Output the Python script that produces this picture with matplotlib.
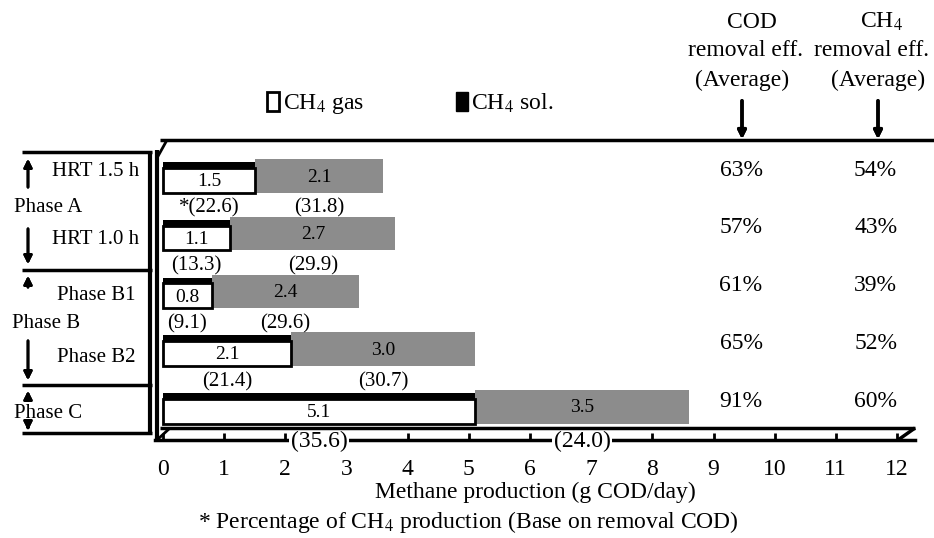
import matplotlib.pyplot as plt
from matplotlib.lines import Line2D
from matplotlib.patches import Patch

plt.rcParams['font.family'] = ['Liberation Serif', 'DejaVu Serif']
plt.rcParams['mathtext.fontset'] = 'stix'

# data
rows = ['HRT 1.5 h', 'HRT 1.0 h', 'Phase B1', 'Phase B2', 'Phase C']
ch4_gas = [1.5, 1.1, 0.8, 2.1, 5.1]
ch4_sol = [2.1, 2.7, 2.4, 3.0, 3.5]
gas_pct = ['*(22.6)', '(13.3)', '(9.1)', '(21.4)', '(35.6)']
sol_pct = ['(31.8)', '(29.9)', '(29.6)', '(30.7)', '(24.0)']
cod_eff = ['63%', '57%', '61%', '65%', '91%']
ch4_eff = ['54%', '43%', '39%', '52%', '60%']
xticks = list(range(0, 13))

W, H = 934, 538
fig = plt.figure(figsize=(W / 100, H / 100), dpi=100)


def fx(px):
    return px / W


def fy(py):
    return 1 - py / H


def fline(xs, ys, lw=2.5, color='black'):
    fig.add_artist(Line2D([fx(x) for x in xs], [fy(y) for y in ys],
                          color=color, lw=lw, solid_capstyle='butt'))


def farrow(x, y0, y1, lw=2):
    fig.add_artist(plt.annotate('', xy=(fx(x), fy(y1)), xytext=(fx(x), fy(y0)),
                                xycoords='figure fraction',
                                arrowprops=dict(arrowstyle='-|>', color='black',
                                                lw=lw, mutation_scale=12)))


# bar axes: 0 at x=163px, 12 at x=897px
ax = fig.add_axes([fx(155), fy(440), (915 - 155) / W, 300 / H])
scale = (897 - 163) / 12
xmin = -(163 - 155) / scale
ax.set_xlim(xmin, xmin + 760 / scale)
step = 57.7
ax.set_ylim((440 - 176) / step, (140 - 176) / step)

ypos = list(range(len(rows)))
# grey CH4 sol. segment
ax.barh(ypos, ch4_sol, left=ch4_gas, height=0.58,
        color='#8c8c8c', edgecolor='none', zorder=2)
# white CH4 gas segment with dark top face
ax.barh([y + 0.075 for y in ypos], ch4_gas, height=0.43, color='white',
        edgecolor='black', linewidth=2, zorder=3)
ax.barh([y - 0.19 for y in ypos], ch4_gas, height=0.1, color='black',
        edgecolor='none', zorder=4)

for i in ypos:
    g, s = ch4_gas[i], ch4_sol[i]
    ax.text(g / 2, i + 0.1, f'{g:.1f}', ha='center', va='center', fontsize=14, zorder=5)
    ax.text(g + s / 2, i + 0.02, f'{s:.1f}', ha='center', va='center', fontsize=14, zorder=5)
    if i < 4:
        ax.text(g / 2, i + 0.56, gas_pct[i], ha='center', va='center', fontsize=15)
        ax.text(g + s / 2, i + 0.56, sol_pct[i], ha='center', va='center', fontsize=15)
    else:
        for xv, t in [(g / 2, gas_pct[i]), (g + s / 2, sol_pct[i])]:
            ax.text(xv, 4.6, t, ha='center', va='center', fontsize=17, zorder=6,
                    bbox=dict(facecolor='white', edgecolor='none', pad=1))
    ax.text(9.45, i - 0.1, cod_eff[i], ha='center', va='center', fontsize=17)
    ax.text(11.65, i - 0.1, ch4_eff[i], ha='center', va='center', fontsize=17)

for sp in ['top', 'right', 'left']:
    ax.spines[sp].set_visible(False)
ax.spines['bottom'].set_linewidth(2.5)
ax.set_yticks([])
ax.set_xticks(xticks)
ax.tick_params(axis='x', direction='in', length=5, width=2, pad=14, labelsize=17)
ax.set_xlabel('Methane production (g COD/day)', fontsize=17, labelpad=1)

# 3D frame lines
fline([160, 934], [140, 140])
fline([157, 157], [150, 440], lw=3)
fline([157, 167], [158, 140], lw=2)
fline([160, 915], [428, 428], lw=2.5)
fline([915, 898], [428, 440], lw=2.5)
fline([157, 170], [440, 428], lw=2)

# left phase boxes
fline([22, 152], [152, 152])
fline([22, 152], [270, 270])
fline([22, 152], [385, 385])
fline([22, 152], [433, 433])
fline([150, 150], [152, 433], lw=3)
for y0, y1 in [(190, 156), (226, 267), (290, 273), (338, 383), (400, 388), (424, 433)]:
    farrow(28, y0, y1)

fig.text(fx(96), fy(172), 'HRT 1.5 h', ha='center', va='center', fontsize=15)
fig.text(fx(48), fy(208), 'Phase A', ha='center', va='center', fontsize=15)
fig.text(fx(96), fy(240), 'HRT 1.0 h', ha='center', va='center', fontsize=15)
fig.text(fx(96), fy(296), 'Phase B1', ha='center', va='center', fontsize=15)
fig.text(fx(46), fy(323), 'Phase B', ha='center', va='center', fontsize=15)
fig.text(fx(96), fy(357), 'Phase B2', ha='center', va='center', fontsize=15)
fig.text(fx(48), fy(413), 'Phase C', ha='center', va='center', fontsize=15)

# column headers
fig.text(fx(752), fy(22), 'COD', ha='center', va='center', fontsize=17)
fig.text(fx(746), fy(51), 'removal eff.', ha='center', va='center', fontsize=17)
fig.text(fx(742), fy(80), '(Average)', ha='center', va='center', fontsize=17)
fig.text(fx(882), fy(22), 'CH$_4$', ha='center', va='center', fontsize=17)
fig.text(fx(872), fy(51), 'removal eff.', ha='center', va='center', fontsize=17)
fig.text(fx(878), fy(80), '(Average)', ha='center', va='center', fontsize=17)
farrow(742, 98, 142, lw=2.5)
farrow(878, 98, 142, lw=2.5)

# legend
handles = [Patch(facecolor='white', edgecolor='black', linewidth=2),
           Patch(facecolor='black', edgecolor='black')]
fig.legend(handles, ['CH$_4$ gas', 'CH$_4$ sol.'], loc='center left',
           bbox_to_anchor=(fx(246), fy(104)), ncol=2, frameon=False, fontsize=17,
           handlelength=0.5, handleheight=0.9, handletextpad=0.15, columnspacing=3.9)

fig.text(fx(468), fy(522), '* Percentage of CH$_4$ production (Base on removal COD)',
         ha='center', va='center', fontsize=17)

fig.savefig('out.png', dpi=100)
